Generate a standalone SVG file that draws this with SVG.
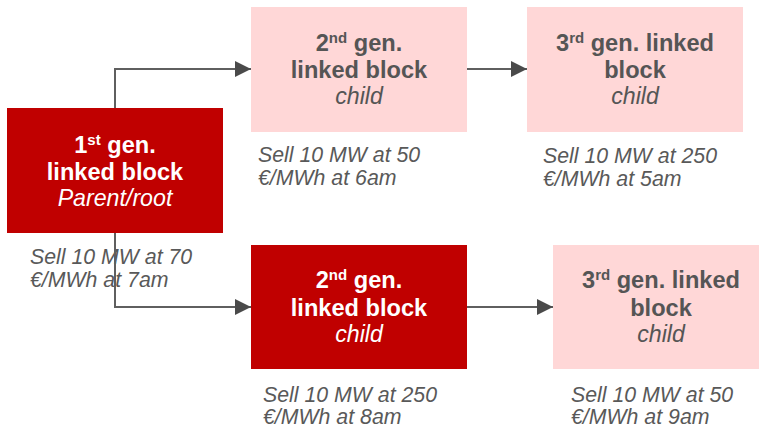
<svg xmlns="http://www.w3.org/2000/svg" width="759" height="428" viewBox="0 0 759 428">
  <defs>
    <marker id="arrow" markerUnits="userSpaceOnUse" markerWidth="16" markerHeight="16" refX="16" refY="8" orient="auto">
      <path d="M0,0 L16,8 L0,16 Z" fill="#4a4a4a"/>
    </marker>
    <style>
      .connector { fill: none; stroke: #5f5f5f; stroke-width: 2; }
      .dark rect { fill: #c00000; }
      .light rect { fill: #ffd7d7; }
      .title { font-family: "Liberation Sans", Arial, sans-serif; font-size: 23.6px; font-weight: bold; text-anchor: middle; }
      .sub { font-family: "Liberation Sans", Arial, sans-serif; font-size: 23.2px; font-style: italic; text-anchor: middle; }
      .dark text { fill: #ffffff; }
      .light text { fill: #555555; }
      .sup { font-size: 15px; }
      .caption { font-family: "Liberation Sans", Arial, sans-serif; font-size: 21.3px; font-style: italic; fill: #595959; }
    </style>
  </defs>

  <!-- price captions under each block -->
  <g id="captions" class="caption">
    <text x="30" y="264">Sell 10 MW at 70</text>
    <text x="30" y="287">€/MWh at 7am</text>
    <text x="258" y="162">Sell 10 MW at 50</text>
    <text x="258" y="185">€/MWh at 6am</text>
    <text x="543" y="163">Sell 10 MW at 250</text>
    <text x="543" y="186">€/MWh at 5am</text>
    <text x="263" y="402">Sell 10 MW at 250</text>
    <text x="263" y="424">€/MWh at 8am</text>
    <text x="571" y="402">Sell 10 MW at 50</text>
    <text x="571" y="424">€/MWh at 9am</text>
  </g>

  <!-- connectors -->
  <g id="connectors">
    <path class="connector" d="M115,108 V69 H251" marker-end="url(#arrow)"/>
    <path class="connector" d="M467,69 H527" marker-end="url(#arrow)"/>
    <path class="connector" d="M115,233 V307 H251" marker-end="url(#arrow)"/>
    <path class="connector" d="M467,307 H553" marker-end="url(#arrow)"/>
  </g>

  <!-- root block -->
  <g id="gen1-root" class="dark">
    <rect x="7" y="108" width="216" height="125"/>
    <text class="title" x="115" y="153">1<tspan class="sup" dy="-8">st</tspan><tspan dy="8"> gen.</tspan></text>
    <text class="title" x="115" y="180">linked block</text>
    <text class="sub" x="115" y="206">Parent/root</text>
  </g>

  <!-- upper branch -->
  <g id="gen2-upper" class="light">
    <rect x="251" y="7" width="216" height="125"/>
    <text class="title" x="359" y="51">2<tspan class="sup" dy="-8">nd</tspan><tspan dy="8"> gen.</tspan></text>
    <text class="title" x="359" y="78">linked block</text>
    <text class="sub" x="359" y="104">child</text>
  </g>

  <g id="gen3-upper" class="light">
    <rect x="527" y="7" width="216" height="125"/>
    <text class="title" x="635" y="51">3<tspan class="sup" dy="-8">rd</tspan><tspan dy="8"> gen. linked</tspan></text>
    <text class="title" x="635" y="78">block</text>
    <text class="sub" x="635" y="104">child</text>
  </g>

  <!-- lower branch -->
  <g id="gen2-lower" class="dark">
    <rect x="251" y="245" width="216" height="124"/>
    <text class="title" x="359" y="288">2<tspan class="sup" dy="-8">nd</tspan><tspan dy="8"> gen.</tspan></text>
    <text class="title" x="359" y="316">linked block</text>
    <text class="sub" x="359" y="342">child</text>
  </g>

  <g id="gen3-lower" class="light">
    <rect x="553" y="245" width="216" height="124"/>
    <text class="title" x="661" y="288">3<tspan class="sup" dy="-8">rd</tspan><tspan dy="8"> gen. linked</tspan></text>
    <text class="title" x="661" y="316">block</text>
    <text class="sub" x="661" y="342">child</text>
  </g>
</svg>
